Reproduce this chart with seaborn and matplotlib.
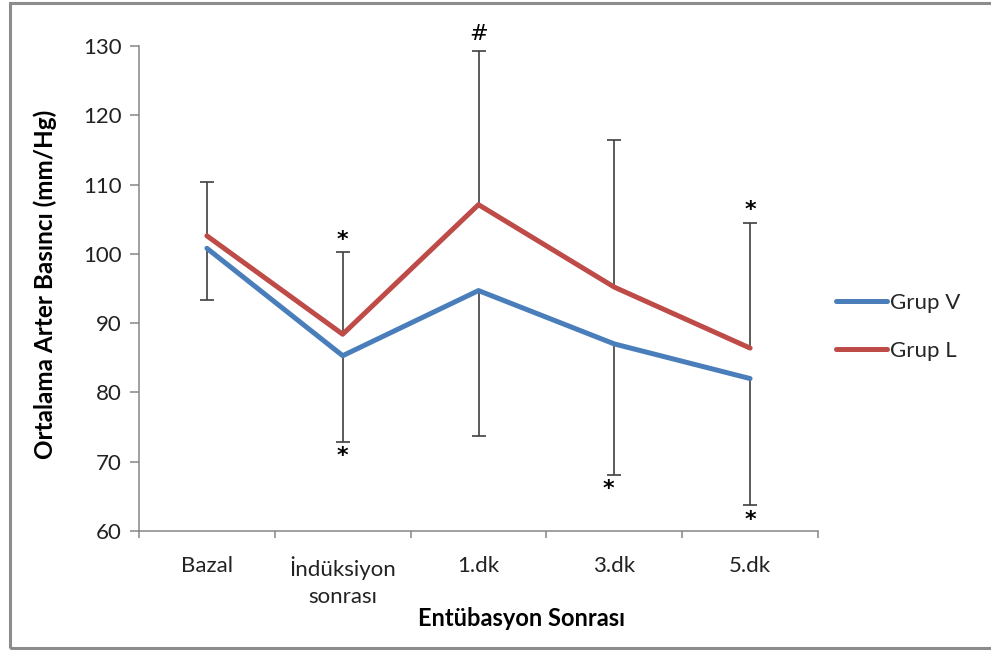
import matplotlib
matplotlib.use("Agg")
import matplotlib.pyplot as plt
from matplotlib.patches import Rectangle
from matplotlib.lines import Line2D
import seaborn as sns
import pandas as pd
import numpy as np

# Time points and group means
categories = ["Bazal", "İndüksiyon\nsonrası", "1.dk", "3.dk", "5.dk"]
grup_v = [100.8, 85.3, 94.7, 87.0, 82.0]
grup_l = [102.6, 88.4, 107.1, 95.2, 86.4]
# Standard deviations: Grup L drawn upward, Grup V drawn downward
sd_l = [7.7, 11.8, 22.2, 21.2, 18.1]
sd_v = [7.5, 12.5, 21.0, 18.9, 18.3]
# Significance marks: (category index, group, text)
marks = [(1, "L", "*"), (1, "V", "*"), (2, "L", "#"), (3, "V", "*"), (4, "L", "*"), (4, "V", "*")]

blue = "#4A7EBB"
red = "#BE4B48"
err_col = "#404040"
axis_col = "#868686"

sns.set_theme(style="white")
plt.rcParams["font.family"] = ["Lato", "DejaVu Sans"]

df = pd.DataFrame({
    "pos": list(range(len(categories))) * 2,
    "Değer": grup_v + grup_l,
    "Grup": ["Grup V"] * len(categories) + ["Grup L"] * len(categories),
})

fig = plt.figure(figsize=(9.91, 6.5), dpi=100)
ax = fig.add_axes([139 / 991, 1 - 531 / 650, (818 - 139) / 991, (531 - 46) / 650])

x = np.arange(len(categories))
hi_l = np.array(grup_l) + np.array(sd_l)
lo_v = np.array(grup_v) - np.array(sd_v)

# Error bars (drawn under the lines)
ax.vlines(x, grup_l, hi_l, color=err_col, lw=1.2, zorder=1)
ax.vlines(x, lo_v, grup_v, color=err_col, lw=1.2, zorder=1)
ax.plot(x, hi_l, ls="none", marker="_", ms=10, mew=1.2, color=err_col, zorder=1)
ax.plot(x, lo_v, ls="none", marker="_", ms=10, mew=1.2, color=err_col, zorder=1)

sns.lineplot(data=df, x="pos", y="Değer", hue="Grup", palette={"Grup V": blue, "Grup L": red},
             lw=3.6, sort=False, ax=ax, zorder=3, legend=False)

# Significance symbols next to the bar tips
for i, grp, txt in marks:
    weight = "bold" if txt == "*" else "normal"
    if grp == "L":
        ax.annotate(txt, (x[i], hi_l[i]), xytext=(0, 2 if txt == "*" else 5),
                    textcoords="offset points", ha="center", va="bottom",
                    fontsize=16, fontweight=weight, family="DejaVu Sans", color="black")
    else:
        ax.annotate(txt, (x[i] - (0.04 if i == 3 else 0), lo_v[i]), xytext=(0, -3),
                    textcoords="offset points", ha="center", va="top",
                    fontsize=16, fontweight=weight, family="DejaVu Sans", color="black")

ax.set_xlim(-0.5, len(categories) - 0.5)
ax.set_ylim(60, 130)
ax.set_yticks(np.arange(60, 131, 10))
ax.set_xticks(x)
ax.set_xticklabels(categories, fontsize=16, color="#222222", linespacing=1.45)
ax.set_xticks(np.arange(-0.5, len(categories), 1), minor=True)
ax.tick_params(axis="y", which="major", direction="out", length=6.5, width=1.1, color=axis_col,
               labelsize=16, labelcolor="#222222", pad=6, left=True)
ax.tick_params(axis="x", which="major", length=0, pad=18)
ax.tick_params(axis="x", which="minor", direction="out", length=5, width=1.1, color=axis_col, bottom=True)

for s in ["top", "right"]:
    ax.spines[s].set_visible(False)
for s in ["left", "bottom"]:
    ax.spines[s].set_color(axis_col)
    ax.spines[s].set_linewidth(1.1)

ax.set_xlabel("")
ax.set_ylabel("")
fig.text(45 / 991, 1 - 284 / 650, "Ortalama Arter Basıncı (mm/Hg)", rotation=90, fontsize=17.5,
         fontweight="bold", ha="center", va="center", color="black")
fig.text(521 / 991, 1 - 618 / 650, "Entübasyon Sonrası", fontsize=17, fontweight="bold",
         ha="center", va="center", color="black")

# Legend
handles = [Line2D([], [], color=blue, lw=3.6, solid_capstyle="round"),
           Line2D([], [], color=red, lw=3.6, solid_capstyle="round")]
fig.legend(handles, ["Grup V", "Grup L"], loc="center left",
           bbox_to_anchor=(816 / 991, 1 - 327 / 650), frameon=False, fontsize=16,
           handlelength=2.3, handletextpad=0.15, labelspacing=1.25)

# Outer frame
fig.patches.append(Rectangle((10 / 991, 2 / 650), 1.2, 1 - 5 / 650, transform=fig.transFigure,
                             fill=False, edgecolor="#8C8C8C", lw=2.2, zorder=10))

fig.savefig("out.png", dpi=100)
